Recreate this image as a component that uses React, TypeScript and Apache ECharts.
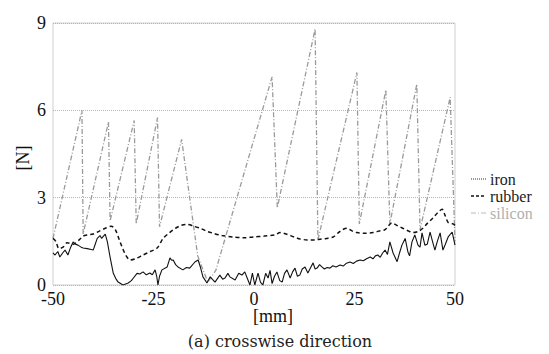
import React, { useEffect, useRef } from "react";
import * as echarts from "echarts";

const xTicks = [-50, -25, 0, 25, 50];
const yTicks = [0, 3, 6, 9];
const seriesNames = ["iron", "rubber", "silicon"];

const ironPoints: [number, number][] = [
  [-50, 1.1], [-49.5, 1.03], [-48.8, 1.15], [-48.3, 0.96], [-47.6, 1.1], [-47, 1.2], [-46.3, 1.03], [-45.6, 1.3],
  [-45, 1.48], [-44.4, 1.4], [-43.8, 1.37], [-43, 1.3], [-42.5, 1.27], [-41.5, 1.25], [-40.5, 1.22], [-40, 1.2],
  [-39.5, 1.4], [-39, 1.6], [-38.3, 1.7], [-37.9, 1.6], [-37.6, 1.65], [-37, 1.75], [-36.5, 1.5], [-35.8, 0.96],
  [-35, 0.4], [-34.3, 0.2], [-33.8, 0.1], [-32.6, 0.0], [-31.3, 0.07], [-30.5, 0.15], [-30, 0.24], [-29.1, 0.4],
  [-28.4, 0.38], [-27.6, 0.45], [-26.8, 0.35], [-25.9, 0.41], [-25.3, 0.35], [-24.6, 0.52], [-24.2, 0.3], [-23.9, 0.0],
  [-23.5, 0.3], [-22.9, 0.52], [-21.6, 0.62], [-20.9, 0.93], [-20.5, 0.85], [-20.1, 0.86], [-19.5, 0.7], [-18.9, 0.62],
  [-17.7, 0.52], [-16.8, 0.6], [-16, 0.58], [-14.7, 0.79], [-13.9, 0.86], [-13.3, 0.6], [-12.7, 0.28], [-11.7, 0.07],
  [-10.9, 0.28], [-9.7, 0.1], [-8.5, 0.34], [-7.8, 0.2], [-7.2, 0.24], [-6.5, 0.4], [-6, 0.28], [-4.7, 0.17],
  [-3.8, 0.4], [-3, 0.34], [-2.3, 0.45], [-1.7, 0.24], [-1, 0.0], [-0.4, 0.41], [0.2, 0.0], [1, 0.41],
  [1.6, 0.1], [2.2, 0.0], [2.9, 0.4], [3.5, 0.24], [4.0, 0.5], [4.5, 0.05], [5.1, 0.3], [5.7, 0.45],
  [6.4, 0.15], [7, 0.1], [7.6, 0.4], [8.2, 0.52], [9, 0.24], [9.6, 0.45], [10.2, 0.58], [10.8, 0.3],
  [11.4, 0.34], [12, 0.55], [12.7, 0.62], [13.4, 0.41], [14.1, 0.6], [14.7, 0.76], [15.2, 0.55], [15.7, 0.58],
  [16.3, 0.7], [16.9, 0.62], [17.5, 0.55], [18.2, 0.6], [18.9, 0.58], [19.6, 0.66], [20.4, 0.62], [21.4, 0.69],
  [22.2, 0.65], [23, 0.75], [23.9, 0.79], [24.7, 0.74], [25.5, 0.82], [26.4, 0.86], [27.2, 0.83], [28, 0.9],
  [28.9, 0.96], [29.6, 0.9], [30.2, 1.0], [30.8, 1.03], [31.4, 0.95], [32, 1.1], [32.6, 1.2], [33.2, 1.05],
  [33.8, 1.48], [34.6, 1.1], [35.6, 0.8], [36.2, 1.1], [36.8, 1.37], [37.6, 1.6], [38.3, 1.13], [38.7, 1.0],
  [39.3, 1.48], [40, 1.72], [40.8, 1.37], [41.3, 1.3], [41.8, 1.79], [42.5, 1.37], [43.1, 1.4], [43.8, 1.82],
  [44.4, 1.5], [45, 1.2], [45.6, 1.5], [46.3, 1.79], [47, 1.2], [47.6, 1.4], [48.3, 1.65], [49.3, 1.82], [50, 1.37],
];

const rubberPoints: [number, number][] = [
  [-50, 1.6], [-49.3, 1.5], [-48.5, 1.25], [-47.5, 1.3], [-46.5, 1.45], [-45, 1.4], [-43.5, 1.55], [-42.5, 1.68],
  [-41.5, 1.72], [-40, 1.75], [-38.5, 1.85], [-37, 1.95], [-35.5, 2.02], [-34.5, 1.9], [-33.5, 1.55], [-32.8, 1.3],
  [-31.8, 1.0], [-30.8, 0.86], [-29.5, 0.9], [-27.6, 1.03], [-25.8, 1.15], [-24.1, 1.27], [-22.6, 1.6], [-21, 1.8],
  [-19.5, 1.95], [-18, 2.05], [-16.5, 2.08], [-15, 2.02], [-13.4, 1.95], [-11.8, 1.85], [-10.2, 1.78], [-8, 1.7],
  [-5.2, 1.65], [-2.5, 1.62], [-0.2, 1.65], [2.5, 1.68], [5.2, 1.72], [6.5, 1.8], [8, 1.75], [10, 1.65],
  [11.5, 1.58], [13.2, 1.55], [15, 1.55], [16.4, 1.57], [18, 1.6], [19.7, 1.65], [21, 1.8], [22, 1.9],
  [23.1, 1.95], [24.5, 1.85], [25.6, 1.8], [27.5, 1.78], [29.6, 1.8], [31, 1.85], [32.6, 1.9], [34.3, 2.13],
  [35.5, 2.05], [37, 1.95], [38.5, 1.85], [39.6, 1.8], [41, 1.85], [42, 1.95], [43, 2.1], [44.5, 2.3],
  [45.8, 2.5], [46.8, 2.6], [47.5, 2.4], [48.3, 2.15], [49.5, 2.1], [50, 2.05],
];

const siliconPoints: [number, number][] = [
  [-50, 1.6], [-42.8, 6.0], [-42.5, 1.75], [-36.2, 5.6], [-35.8, 2.2], [-29.8, 5.65], [-29.3, 2.1], [-24, 5.75],
  [-23.5, 2.0], [-18, 5.0], [-14, 1.0], [-11.5, 0.1], [-9.5, 0.5], [4.5, 7.15], [5.8, 2.65], [15.2, 8.8],
  [15.9, 1.55], [25.6, 7.3], [26.2, 2.1], [32.8, 6.7], [33.8, 2.1], [40.5, 6.9], [41.3, 1.9], [48.8, 6.45],
  [50, 1.5],
];

const SERIF = "Liberation Serif";
const CAPTION_FONT = "DejaVu Serif";

export default function App() {
  const ref = useRef<HTMLDivElement>(null);
  useEffect(() => {
    if (!ref.current) return;
    const chart = echarts.init(ref.current, undefined, { renderer: "svg" });
    const legendTop = 179;
    const legendGap = 17;
    const legendStyles = [
      { type: [1, 1], width: 1, stroke: "#333", text: "#222" },
      { type: [3, 2], width: 1.5, stroke: "#111", text: "#222" },
      { type: [5, 2, 1, 2], width: 1.2, stroke: "#bbb", text: "#b0b0b0" },
    ];
    const legendGraphics: any[] = [];
    seriesNames.forEach((name, i) => {
      const y = legendTop + i * legendGap;
      const s = legendStyles[i];
      legendGraphics.push({
        type: "line",
        shape: { x1: 471, y1: y, x2: 486, y2: y },
        style: { stroke: s.stroke, lineWidth: s.width, lineDash: s.type },
      });
      legendGraphics.push({
        type: "text",
        x: 490,
        y: y,
        style: { text: name, fontFamily: SERIF, fontSize: 16, lineHeight: 15, fill: s.text, textAlign: "left", textVerticalAlign: "middle" },
      });
    });
    chart.setOption({
      animation: false,
      backgroundColor: "#fff",
      grid: { left: 53, right: 94, top: 23, bottom: 69, show: true, borderColor: "#cfcfcf", borderWidth: 1 },
      xAxis: {
        type: "value",
        min: xTicks[0],
        max: xTicks[xTicks.length - 1],
        interval: 25,
        axisLine: { show: false },
        axisTick: { show: false },
        splitLine: { show: false },
        axisLabel: { fontFamily: SERIF, fontSize: 18, lineHeight: 14, color: "#111", margin: 7 },
      },
      yAxis: {
        type: "value",
        min: yTicks[0],
        max: yTicks[yTicks.length - 1],
        interval: 3,
        axisLine: { show: false },
        axisTick: { show: false },
        splitLine: { show: true, lineStyle: { color: "#b5b5b5", type: [1, 1], width: 1 } },
        axisLabel: { fontFamily: SERIF, fontSize: 18, lineHeight: 14, color: "#111", margin: 7 },
      },
      series: [
        {
          name: seriesNames[2],
          type: "line",
          data: siliconPoints,
          symbol: "none",
          lineStyle: { color: "#9a9a9a", width: 1.3, type: [5, 2, 1, 2] },
          z: 1,
        },
        {
          name: seriesNames[1],
          type: "line",
          data: rubberPoints,
          symbol: "none",
          smooth: 0.3,
          lineStyle: { color: "#111", width: 1.5, type: [4, 3] },
          z: 2,
        },
        {
          name: seriesNames[0],
          type: "line",
          data: ironPoints,
          symbol: "none",
          lineStyle: { color: "#111", width: 1.1, type: "solid" },
          z: 3,
        },
      ],
      graphic: [
        ...legendGraphics,
        {
          type: "text",
          x: 273,
          y: 316,
          style: { text: "[mm]", fontFamily: SERIF, fontSize: 18, lineHeight: 14, fill: "#111", textAlign: "center", textVerticalAlign: "middle" },
        },
        {
          type: "text",
          x: 280,
          y: 341,
          style: { text: "(a) crosswise direction", fontFamily: CAPTION_FONT, fontSize: 16, lineHeight: 16, fill: "#222", textAlign: "center", textVerticalAlign: "middle" },
        },
        {
          type: "text",
          x: 23,
          y: 158,
          rotation: Math.PI / 2,
          style: { text: "[N]", fontFamily: SERIF, fontSize: 18, fill: "#111", textAlign: "center", textVerticalAlign: "middle" },
        },
      ],
    });
    return () => chart.dispose();
  }, []);
  return <div ref={ref} style={{ width: 549, height: 354, position: "absolute", left: 0, top: 0 }} />;
}
